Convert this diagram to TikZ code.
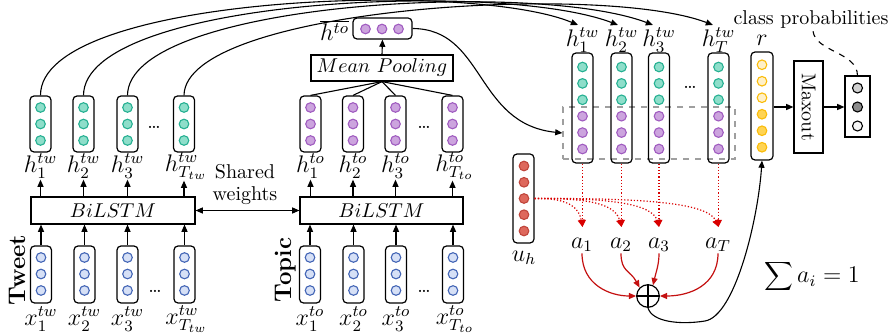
\documentclass[tikz,border=0pt]{standalone}
\usetikzlibrary{arrows.meta,calc}
\definecolor{gfill}{RGB}{142,222,202}
\definecolor{gdraw}{RGB}{38,176,146}
\definecolor{pfill}{RGB}{204,164,222}
\definecolor{pdraw}{RGB}{160,92,192}
\definecolor{bfill}{RGB}{214,224,246}
\definecolor{bdraw}{RGB}{68,102,182}
\definecolor{rfill}{RGB}{222,104,92}
\definecolor{rdraw}{RGB}{192,70,60}
\definecolor{y1fill}{RGB}{255,240,200}
\definecolor{y2fill}{RGB}{255,212,84}
\definecolor{ydraw}{RGB}{250,188,10}
\definecolor{darkred}{RGB}{196,16,16}
\newcommand{\dotcol}[4]{\foreach \yy in {#2} \filldraw[fill=#3,draw=#4,line width=0.55pt] (#1,\yy) circle[radius=2.4pt];}
\begin{document}
\begin{tikzpicture}[x=0.5pt,y=-0.5pt,
  vec/.style={draw,rounded corners=2pt,line width=0.6pt,minimum width=10.5pt,inner sep=0pt},
  tallvec/.style={vec,minimum height=28pt},
  box/.style={draw,line width=0.6pt,inner sep=0pt},
  lab/.style={inner sep=0.5pt,font=\large},
  arr/.style={-{Triangle[length=3.6pt,width=3pt]},line width=0.55pt},
  conn/.style={line width=0.55pt},
  reddot/.style={densely dotted,draw=red!85!black,line width=0.6pt,-{Triangle[length=3.6pt,width=3.4pt]}},
  redarr/.style={draw=darkred,line width=0.6pt,-{Triangle[length=3.6pt,width=3pt]}}
]
\useasboundingbox (0,0) rectangle (889,336);

% ---------- Tweet branch ----------
\foreach \i/\x in {1/40.5,2/83.5,3/127.5,4/184}{
  \node[tallvec] (tw\i) at (\x,124) {};
  \dotcol{\x}{107.5,124,140.5}{gfill}{gdraw}
}
\foreach \i/\x in {1/41,2/84.5,3/127.5,4/184.5}{
  \node[vec,minimum height=28.5pt] (xw\i) at (\x,274.5) {};
  \dotcol{\x}{257.5,274,290.5}{bfill}{bdraw}
}
\node[lab] (twl1) at (40.5,166) {$h^{tw}_{1}$};
\node[lab] (twl2) at (83.5,166) {$h^{tw}_{2}$};
\node[lab] (twl3) at (127.5,166) {$h^{tw}_{3}$};
\node[lab] (twl4) at (186,166) {$h^{tw}_{T_{tw}}$};
\node[lab] (xwl1) at (41,319) {$x^{tw}_{1}$};
\node[lab] (xwl2) at (84.5,319) {$x^{tw}_{2}$};
\node[lab] (xwl3) at (127.5,319) {$x^{tw}_{3}$};
\node[lab] (xwl4) at (186.5,319) {$x^{tw}_{T_{tw}}$};
\node (dw1) at (154,127) {\ldots};
\node (dw2) at (155,291) {\ldots};
\node[box,minimum width=82pt,minimum height=13.5pt] (bl1) at (113,210.5) {$BiLSTM$};
\foreach \i in {1,...,4}{
  \draw[arr] (tw\i |- bl1.north) -- (twl\i.south -| tw\i);
  \draw[arr] (xw\i.north) -- (xw\i |- bl1.south);
}
\node[rotate=90,font=\large\bfseries] (tweet) at (17.5,270) {Tweet};

% ---------- Topic branch ----------
\foreach \i/\x in {1/310.5,2/353,3/395.5,4/452.5}{
  \node[tallvec] (to\i) at (\x,124) {};
  \dotcol{\x}{107.5,124,140.5}{pfill}{pdraw}
}
\foreach \i/\x in {1/310,2/353.5,3/396,4/453}{
  \node[vec,minimum height=28.5pt] (xt\i) at (\x,274.5) {};
  \dotcol{\x}{257.5,274,290.5}{bfill}{bdraw}
}
\node[lab] (tol1) at (310.5,166) {$h^{to}_{1}$};
\node[lab] (tol2) at (353,166) {$h^{to}_{2}$};
\node[lab] (tol3) at (395.5,166) {$h^{to}_{3}$};
\node[lab] (tol4) at (454.5,166) {$h^{to}_{T_{to}}$};
\node[lab] (xtl1) at (310,319) {$x^{to}_{1}$};
\node[lab] (xtl2) at (353.5,319) {$x^{to}_{2}$};
\node[lab] (xtl3) at (396,319) {$x^{to}_{3}$};
\node[lab] (xtl4) at (455,319) {$x^{to}_{T_{to}}$};
\node (dt1) at (424,127) {\ldots};
\node (dt2) at (424,291) {\ldots};
\node[box,minimum width=81.5pt,minimum height=13.5pt] (bl2) at (381.5,210.5) {$BiLSTM$};
\foreach \i in {1,...,4}{
  \draw[arr] (to\i |- bl2.north) -- (tol\i.south -| to\i);
  \draw[arr] (xt\i.north) -- (xt\i |- bl2.south);
}
\node[rotate=90,font=\large\bfseries] (topic) at (285.5,270) {Topic};

% shared weights
\draw[{Triangle[length=3.6pt,width=3pt]}-{Triangle[length=3.6pt,width=3pt]},line width=0.55pt] (bl1.east) -- (bl2.west);
\node[align=center,inner sep=0pt,font=\normalsize] (sw) at (245,185) {Shared\\[-1pt]weights};

% mean pooling
\node[box,minimum width=71pt,minimum height=13pt] (mp) at (382,68) {$Mean\ Pooling$};
\foreach \i in {1,...,4}{ \draw[conn] (mp.south) -- (to\i.north); }
\node[vec,minimum width=29.5pt,minimum height=10.5pt] (hb) at (382.5,28.5) {};
\dotcol{365.5}{29}{pfill}{pdraw}
\dotcol{382}{29}{pfill}{pdraw}
\dotcol{398.5}{29}{pfill}{pdraw}
\node[lab,anchor=east,inner sep=0pt] (hbl) at ([xshift=-1.5pt,yshift=-1pt]hb.west) {$\overline{h^{to}}$};
\draw[arr] (mp.north) -- (hb.south);

% ---------- Attention part ----------
\node[draw=gray!75,dashed,line width=0.6pt,minimum width=86pt,minimum height=26pt,inner sep=0pt] (att) at (649,133) {};
\foreach \i/\x in {1/582.5,2/621.5,3/659,4/718.5}{
  \node[vec,minimum height=55pt] (r\i) at (\x,108) {};
  \dotcol{\x}{67,83.4,99.8}{gfill}{gdraw}
  \dotcol{\x}{116.2,132.6,149}{pfill}{pdraw}
}
\node (dr) at (690,87) {\ldots};
\node[lab] (rl1) at (582.5,40) {$h^{tw}_{1}$};
\node[lab] (rl2) at (621.5,40) {$h^{tw}_{2}$};
\node[lab] (rl3) at (659,40) {$h^{tw}_{3}$};
\node[lab] (rl4) at (718.5,40) {$h^{tw}_{T}$};
\coordinate (e1) at (578,25);
\coordinate (e2) at (618,25);
\coordinate (e3) at (653,25);
\coordinate (e4) at (713,25);
\draw[arr] (tw1.north) .. controls (40,-5) and (470,-20) .. (e1);
\draw[arr] (tw2.north) .. controls (84,-2) and (500,-20) .. (e2);
\draw[arr] (tw3.north) .. controls (128,2) and (535,-20) .. (e3);
\draw[arr] (tw4.north) .. controls (185,8) and (600,-18) .. (e4);
\draw[arr] (hb.east) .. controls (485,29) and (475,124) .. (att.west);

% r, maxout, output
\node[vec,minimum width=11pt,minimum height=54pt] (rr) at (762,106) {};
\dotcol{762}{64.75,81.25}{y1fill}{ydraw}
\dotcol{762}{97.75}{y1fill}{ydraw}
\dotcol{762}{114.25,130.75,147.25}{y2fill}{ydraw}
\node[lab] (rlab) at (762,40) {$r$};
\node[box,minimum width=14.5pt,minimum height=46pt] (mx) at (808.5,107) {};
\node[rotate=-90,inner sep=0pt] (mxt) at (mx.center) {Maxout};
\node[box,minimum width=12.5pt,minimum height=30.5pt] (out) at (857.5,106.5) {};
\filldraw[fill=black!18,draw=black,line width=0.55pt] (857.5,88) circle[radius=2.5pt];
\filldraw[fill=black!45,draw=black,line width=0.55pt] (857.5,107) circle[radius=2.5pt];
\filldraw[fill=black!4,draw=black,line width=0.55pt] (857.5,126) circle[radius=2.5pt];
\draw[arr] (rr.east |- mx.west) -- (mx.west);
\draw[arr] (mx.east) -- (out.west |- mx.east);
\node[font=\normalsize,inner sep=1pt] (cp) at (811,20) {class probabilities};
\draw[dashed,line width=0.55pt] ([xshift=1pt]cp.south) .. controls (816,52) and (857,52) .. (out.north);

% u_h
\node[vec,minimum height=44.5pt] (uh) at (523.5,198.5) {};
\dotcol{524}{166,182.3,198.5,214.7,231}{rfill}{rdraw}
\node[lab] (uhl) at (524,258) {$u_h$};

% attention weights
\node[lab] (a1) at (582,245) {$a_1$};
\node[lab] (a2) at (621,245) {$a_2$};
\node[lab] (a3) at (659,245) {$a_3$};
\node[lab] (a4) at (718,245) {$a_T$};
\coordinate (t1) at (582.5,227);
\coordinate (t2) at (621.5,227);
\coordinate (t3) at (659,227);
\coordinate (t4) at (718.5,227);
\foreach \i in {1,...,4}{ \draw[reddot] (r\i.south) -- (t\i); }
\draw[reddot] (uh.east) .. controls (560,198) and (578,203) .. (t1);
\draw[reddot] (uh.east) .. controls (585,198) and (615,203) .. (t2);
\draw[reddot] (uh.east) .. controls (605,198) and (652,203) .. (t3);
\draw[reddot] (uh.east) .. controls (645,198) and (708,203) .. (t4);

% sum node
\node[circle,draw,line width=0.6pt,minimum size=11.3pt,inner sep=0pt] (op) at (648,296) {};
\draw[line width=0.6pt] (op.north) -- (op.south) (op.west) -- (op.east);
\draw[redarr] (a1.south) .. controls (582,285) and (610,296) .. (op.west);
\draw[redarr] (a2.south) .. controls (621,272) and (630,270) .. (op.135);
\draw[redarr] (a3.south) .. controls (659,265) and (656,272) .. (op.65);
\draw[redarr] (a4.south) .. controls (718,285) and (690,296) .. (op.east);
\draw[arr] (op.south) .. controls (652,322) and (680,325) .. (705,321) .. controls (735,316) and (758,220) .. (rr.south);

\node[font=\large] (sum) at (812,277) {$\displaystyle\sum a_i = 1$};
\end{tikzpicture}
\end{document}
